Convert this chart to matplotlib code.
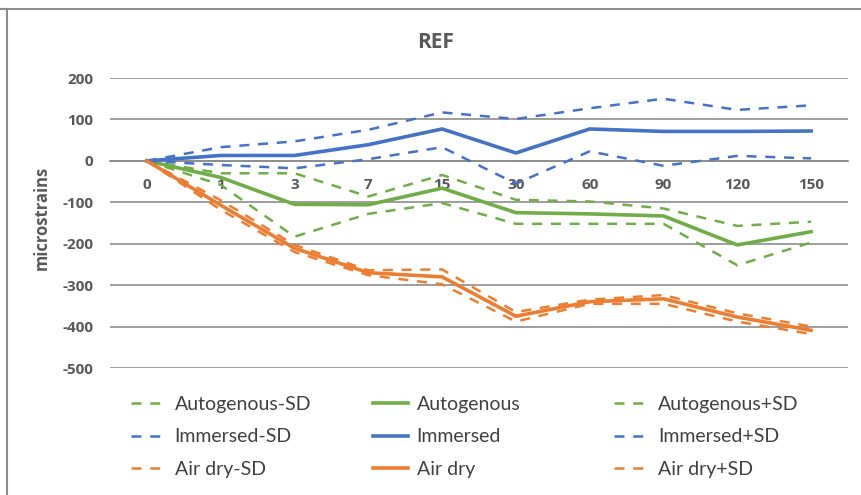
import matplotlib.pyplot as plt
from matplotlib.lines import Line2D

plt.rcParams['axes.unicode_minus'] = False

# ages (days) shown as categories
days = ['0', '1', '3', '7', '15', '30', '60', '90', '120', '150']

autogenous = [0, -40, -105, -106, -66, -125, -128, -133, -203, -171]
autogenous_minus = [0, -58, -183, -128, -102, -152, -152, -152, -252, -197]
autogenous_plus = [0, -30, -30, -86, -34, -94, -98, -115, -157, -147]

immersed = [0, 13, 13, 39, 77, 19, 77, 71, 71, 72]
immersed_minus = [0, -10, -18, 4, 33, -55, 23, -12, 12, 6]
immersed_plus = [0, 33, 47, 75, 117, 101, 127, 150, 123, 134]

air_dry = [0, -107, -211, -270, -280, -375, -340, -333, -377, -409]
air_dry_minus = [0, -118, -220, -276, -298, -388, -345, -345, -388, -418]
air_dry_plus = [0, -95, -203, -264, -262, -365, -335, -324, -368, -400]

green = '#70ad47'
blue = '#4472c4'
orange = '#ed7d31'
grey = '#595959'
font = 'Lato'
bold_font = 'Open Sans'

fig = plt.figure(figsize=(8.61, 4.95), dpi=100)
ax = fig.add_axes([110 / 861, 1 - 368 / 495, 738 / 861, 290 / 495])

x = list(range(len(days)))
dash = (0, (4, 3.5))
lw = 2.6
dlw = 1.8

series = [
    (autogenous_minus, 'Autogenous-SD', green, dash, dlw),
    (autogenous, 'Autogenous', green, '-', lw),
    (autogenous_plus, 'Autogenous+SD', green, dash, dlw),
    (immersed_minus, 'Immersed-SD', blue, dash, dlw),
    (immersed, 'Immersed', blue, '-', lw),
    (immersed_plus, 'Immersed+SD', blue, dash, dlw),
    (air_dry_minus, 'Air dry-SD', orange, dash, dlw),
    (air_dry, 'Air dry', orange, '-', lw),
    (air_dry_plus, 'Air dry+SD', orange, dash, dlw),
]

handles = []
for vals, name, col, ls, w in series:
    h, = ax.plot(x, vals, color=col, linestyle=ls, linewidth=w, label=name, zorder=3)
    handles.append(h)

ax.set_xlim(-0.5, len(days) - 0.5)
ax.set_ylim(-500, 200)
ax.set_yticks(range(-500, 201, 100))
ax.set_xticks(x)
ax.set_xticklabels(days)
ax.grid(axis='y', color='#8c8c8c', linewidth=1.2, zorder=0)
ax.set_axisbelow(True)

for s in ['top', 'right', 'left']:
    ax.spines[s].set_visible(False)
ax.spines['bottom'].set_position(('data', 0))
ax.spines['bottom'].set_color('#8c8c8c')
ax.spines['bottom'].set_linewidth(1.2)
ax.tick_params(axis='both', length=0, colors=grey, labelsize=11)
ax.tick_params(axis='x', pad=12)
ax.tick_params(axis='y', pad=12)
for lab in ax.get_xticklabels() + ax.get_yticklabels():
    lab.set_fontfamily(bold_font)
    lab.set_fontweight('bold')

fig.text(42 / 861, 1 - 218 / 495, 'microstrains', rotation=90, ha='center', va='center',
         fontsize=12, fontweight='bold', color=grey, family=bold_font)
fig.text(436 / 861, 1 - 42 / 495, 'REF', ha='center', va='center',
         fontsize=15, fontweight='bold', color=grey, family=bold_font)

# legend: one column per position (-SD, mean, +SD), fixed column starts
col_x = [131, 373, 614]
for c, x0 in enumerate(col_x):
    idx = [c, c + 3, c + 6]
    leg = fig.legend([handles[i] for i in idx], [series[i][1] for i in idx],
                     loc='center left', bbox_to_anchor=(x0 / 861, 1 - 437 / 495),
                     frameon=False, handlelength=1.8, labelspacing=0.8,
                     handletextpad=0.45, borderpad=0, borderaxespad=0,
                     prop={'family': font, 'size': 14})
    for t in leg.get_texts():
        t.set_color('#404040')

# chart frame edges
fig.add_artist(Line2D([0, 1], [1 - 9 / 495, 1 - 9 / 495], color='#8c8c8c', linewidth=1.5,
                      transform=fig.transFigure))
fig.add_artist(Line2D([7 / 861, 7 / 861], [0, 1 - 9 / 495], color='#8c8c8c', linewidth=1.5,
                      transform=fig.transFigure))

fig.savefig('out.png', dpi=100)
